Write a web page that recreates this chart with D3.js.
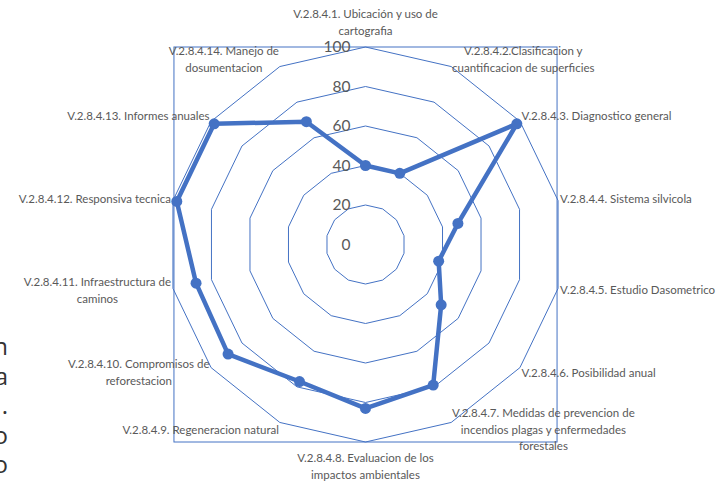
<!DOCTYPE html>
<html>
<head>
<meta charset="utf-8">
<script src="https://cdn.jsdelivr.net/npm/d3@7"></script>
<style>
  html, body { margin: 0; padding: 0; background: #fff; }
  svg { display: block; }
  .axis-label { font-family: Lato, 'Open Sans', sans-serif; font-size: 11.5px; fill: #595959; }
  .tick-label { font-family: Lato, 'Open Sans', sans-serif; font-size: 15.5px; fill: #595959; }
  .page-text { font-family: 'Open Sans', sans-serif; font-size: 24px; fill: #333; }
</style>
</head>
<body>
<div id="chart"></div>
<script>
// categories, each split into the lines shown in the picture
const categories = [
  ['V.2.8.4.1. Ubicación y uso de', 'cartografia'],
  ['V.2.8.4.2.Clasificacion y', 'cuantificacion de superficies'],
  ['V.2.8.4.3. Diagnostico general'],
  ['V.2.8.4.4. Sistema silvicola'],
  ['V.2.8.4.5. Estudio Dasometrico'],
  ['V.2.8.4.6. Posibilidad anual'],
  ['V.2.8.4.7. Medidas de prevencion de', 'incendios plagas y enfermedades', 'forestales'],
  ['V.2.8.4.8. Evaluacion de los', 'impactos ambientales'],
  ['V.2.8.4.9. Regeneracion natural'],
  ['V.2.8.4.10. Compromisos de', 'reforestacion'],
  ['V.2.8.4.11. Infraestructura de', 'caminos'],
  ['V.2.8.4.12. Responsiva tecnica'],
  ['V.2.8.4.13. Informes anuales'],
  ['V.2.8.4.14. Manejo de', 'dosumentacion'],
];
const values = [40, 40, 98, 48, 38, 49, 79, 83, 77, 89, 88, 98, 98, 69];
const ticks = [0, 20, 40, 60, 80, 100];
// stray letters of the document page behind the chart
const pageLetters = ['n', 'a', '.', 'o', 'o'];

const width = 726, height = 481;
const cx = 365.5, cy = 244.5, R = 197.5;
const blue = '#4472c4';

const svg = d3.select('#chart').append('svg')
  .attr('width', width).attr('height', height);

const r = d3.scaleLinear().domain([0, 100]).range([0, R]);
const n = categories.length;
const angle = d3.scaleLinear().domain([0, n]).range([0, 2 * Math.PI]);

function pt(i, v) {
  const a = angle(i);
  return [cx + r(v) * Math.sin(a), cy - r(v) * Math.cos(a)];
}

// page fragments at the left edge
svg.append('g').selectAll('text')
  .data(pageLetters)
  .join('text')
  .attr('class', 'page-text')
  .attr('text-anchor', 'end')
  .attr('x', 8)
  .attr('y', (d, i) => 355 + i * 29.5)
  .text((d) => d);

// plot area border = bounding box of the outer ring
const outer = d3.range(n).map((i) => pt(i, 100));
const xs = outer.map((p) => p[0]), ys = outer.map((p) => p[1]);
svg.append('rect')
  .attr('x', d3.min(xs) + 1).attr('y', d3.min(ys))
  .attr('width', d3.max(xs) - d3.min(xs) - 2)
  .attr('height', d3.max(ys) - d3.min(ys))
  .attr('fill', 'none')
  .attr('stroke', blue)
  .attr('stroke-width', 1);

// grid rings
const ring = d3.line().curve(d3.curveLinearClosed);
svg.append('g').selectAll('path')
  .data(ticks.filter((t) => t > 0))
  .join('path')
  .attr('d', (t) => ring(d3.range(n).map((i) => pt(i, t))))
  .attr('fill', 'none')
  .attr('stroke', blue)
  .attr('stroke-width', 1);

// tick labels
svg.append('g').selectAll('text')
  .data(ticks)
  .join('text')
  .attr('class', 'tick-label')
  .attr('text-anchor', 'end')
  .attr('x', cx - 15)
  .attr('y', (t) => cy - r(t))
  .attr('dy', '0.35em')
  .text((t) => t);

// data series
const series = values.map((v, i) => pt(i, v));
svg.append('path')
  .attr('d', ring(series))
  .attr('fill', 'none')
  .attr('stroke', blue)
  .attr('stroke-width', 4.5)
  .attr('stroke-linejoin', 'round');

svg.append('g').selectAll('circle')
  .data(series)
  .join('circle')
  .attr('cx', (d) => d[0])
  .attr('cy', (d) => d[1])
  .attr('r', 5.5)
  .attr('fill', blue);

// category labels
const lineH = 16.5;
categories.forEach((lines, i) => {
  const a = angle(i);
  const s = Math.sin(a), c = Math.cos(a);
  const [vx, vy] = pt(i, 100);
  const ax = vx + s * 2;
  const ay = vy - c * 8;

  const g = svg.append('g');
  const texts = g.selectAll('text')
    .data(lines)
    .join('text')
    .attr('class', 'axis-label')
    .attr('text-anchor', 'middle')
    .text((d) => d);
  const blockW = d3.max(texts.nodes(), (t) => t.getComputedTextLength());
  const blockH = lines.length * lineH;

  let x0;
  if (s > 0.1) x0 = ax + blockW / 2;
  else if (s < -0.1) x0 = ax - blockW / 2;
  else x0 = ax;

  let top;
  if (Math.abs(s) <= 0.1 && c > 0) top = ay - blockH;
  else if (Math.abs(s) <= 0.1) top = ay;
  else top = ay - blockH / 2;

  texts
    .attr('x', x0)
    .attr('y', (d, k) => top + lineH * (k + 0.5))
    .attr('dy', '0.35em');
});
</script>
</body>
</html>
